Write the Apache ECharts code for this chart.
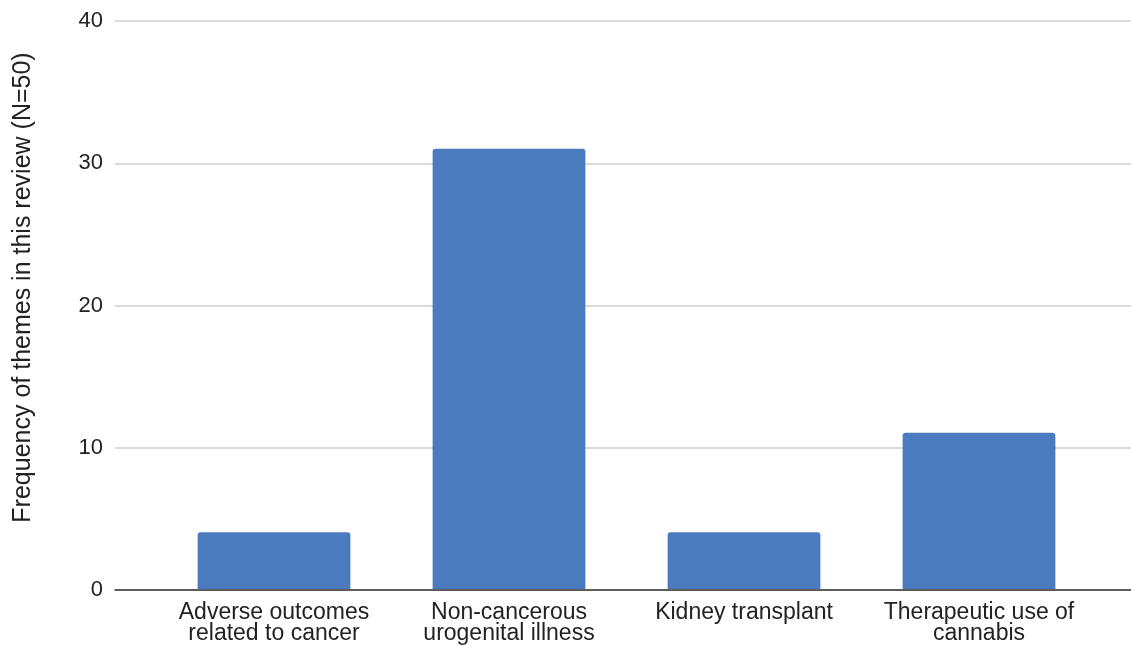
<!DOCTYPE html>
<html>
<head>
<meta charset="utf-8">
<title>Frequency of themes</title>
<script src="https://cdn.jsdelivr.net/npm/echarts@6/dist/echarts.min.js"></script>
<style>
  html, body { margin: 0; padding: 0; background: #ffffff; }
  #chart { width: 1131px; height: 645px; }
</style>
</head>
<body>
<div id="chart"></div>
<script>
// Themes found in the review and how often each appears
const categories = [
  'Adverse outcomes\nrelated to cancer',
  'Non-cancerous\nurogenital illness',
  'Kidney transplant',
  'Therapeutic use of\ncannabis'
];
const frequencies = [4, 31, 4, 11];
const yTicks = [0, 10, 20, 30, 40];
const yAxisTitle = 'Frequency of themes in this review (N=50)';

const FONT = '"Liberation Sans", Arial, Helvetica, sans-serif';
const TEXT = '#222222';
const yMin = yTicks[0];
const yMax = yTicks[yTicks.length - 1];
const yStep = yTicks[1] - yTicks[0];

const chart = echarts.init(document.getElementById('chart'), null, { renderer: 'canvas' });

chart.setOption({
  backgroundColor: '#ffffff',
  animation: false,
  // grid 0: full-width frame carrying gridlines, tick labels and the baseline
  // grid 1: inset band where the category columns sit
  grid: [
    { left: 115, right: 0, top: 21, bottom: 55 },
    { left: 156.5, right: 34.5, top: 21, bottom: 55 }
  ],
  // vertical axis title, placed beside the value labels
  graphic: [
    {
      type: 'text',
      x: 23, y: 287.5,
      rotation: Math.PI / 2,
      style: {
        text: yAxisTitle,
        fill: TEXT,
        font: '25px ' + FONT,
        textAlign: 'center',
        textVerticalAlign: 'middle'
      }
    }
  ],
  xAxis: [
    {
      gridIndex: 0, type: 'value', min: 0, max: 1,
      axisLine: { show: true, lineStyle: { color: '#333333', width: 1.5 } },
      axisTick: { show: false }, axisLabel: { show: false }, splitLine: { show: false }
    },
    {
      gridIndex: 1, type: 'category', data: categories,
      axisLine: { show: false }, axisTick: { show: false },
      axisLabel: {
        interval: 0, margin: 13, color: TEXT, fontFamily: FONT,
        fontSize: 23, lineHeight: 21
      }
    }
  ],
  yAxis: [
    {
      gridIndex: 0, type: 'value', min: yMin, max: yMax, interval: yStep,
      axisLine: { show: false }, axisTick: { show: false },
      axisLabel: { color: TEXT, fontFamily: FONT, fontSize: 22, margin: 12 },
      splitLine: { lineStyle: { color: '#cccccc', width: 1.5 } }
    },
    {
      gridIndex: 1, type: 'value', min: yMin, max: yMax, interval: yStep,
      show: false, splitLine: { show: false }
    }
  ],
  series: [
    {
      type: 'bar', xAxisIndex: 1, yAxisIndex: 1,
      data: frequencies,
      barCategoryGap: '35%',
      itemStyle: { color: '#4a7bbf', borderRadius: [3, 3, 0, 0] },
      z: 1
    }
  ]
});
</script>
</body>
</html>
